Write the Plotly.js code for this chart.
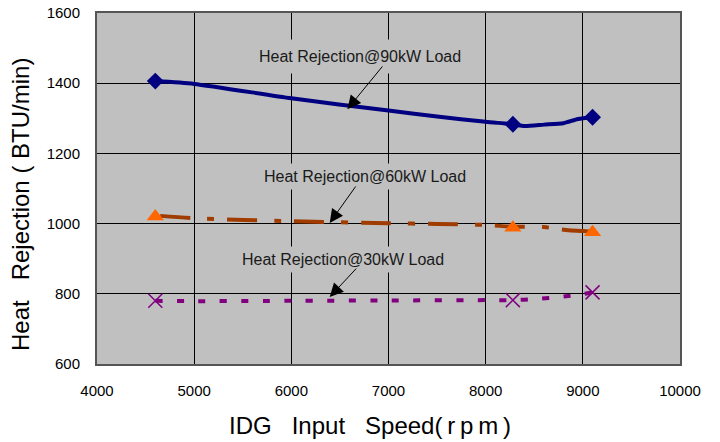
<!DOCTYPE html>
<html>
<head>
<meta charset="utf-8">
<script src="https://cdn.plot.ly/plotly-3.0.1.min.js"></script>
<style>
html,body{margin:0;padding:0;background:#fff;}
#chart{width:720px;height:442px;}
</style>
</head>
<body>
<div id="chart"></div>
<script>
// Marker points (rpm, BTU/min)
const markerSpeed = [4600, 8280, 9100];
const load90Markers = [1406, 1283, 1303];
const load60Markers = [1020, 988, 975];
const load30Markers = [780, 782, 804];

// Line traces
const load90LineX = [4600, 5000, 6000, 7000, 7500, 8000, 8280, 8400, 8600, 8800, 8950, 9100];
const load90LineY = [1406, 1398, 1357, 1322, 1305, 1290, 1283, 1278, 1282, 1286, 1298, 1303];
const load60LineX = [4650, 5000, 6000, 7000, 7500, 8000, 8280, 8600, 8850, 9000, 9100];
const load60LineY = [1022, 1015, 1007, 1001, 999, 996, 991, 990, 981, 979, 976];
const load30LineX = [4600, 5000, 6000, 7000, 8000, 8280, 8500, 8800, 9000, 9100];
const load30LineY = [780, 779, 780, 781, 782, 782, 785, 792, 799, 804];

const labels = ["Heat Rejection@90kW Load", "Heat Rejection@60kW Load", "Heat Rejection@30kW Load"];
const xTitle = "IDG\u00a0\u00a0\u00a0Input\u00a0\u00a0\u00a0Speed(\u2009r\u2009p\u2009m\u2009)";
const yTitle = "Heat\u00a0\u00a0\u00a0Rejection\u00a0(\u00a0BTU/min)";

const FONT = "Liberation Sans, Arial, sans-serif";

const traces = [
  {x: load90LineX, y: load90LineY, mode: 'lines', line: {color: '#000080', width: 4, shape: 'spline', smoothing: 0.6}, hoverinfo: 'skip'},
  {x: load60LineX, y: load60LineY, mode: 'lines', line: {color: '#a03c00', width: 4, shape: 'spline', smoothing: 0.6, dash: '30px,17px,7px,13px'}, hoverinfo: 'skip'},
  {x: load30LineX, y: load30LineY, mode: 'lines', line: {color: '#800080', width: 4, shape: 'spline', smoothing: 0.6, dash: '7px,14.5px'}, hoverinfo: 'skip'},
  {x: markerSpeed, y: load90Markers, mode: 'markers', name: labels[0], marker: {symbol: 'diamond', size: 13, color: '#000080'}},
  {x: markerSpeed, y: load60Markers, mode: 'markers', name: labels[1], marker: {symbol: 'triangle-up', size: 15, color: '#ff6600'}},
  {x: markerSpeed, y: load30Markers, mode: 'markers', name: labels[2], marker: {symbol: 'x-thin-open', size: 14, line: {color: '#800080', width: 1.5}, color: '#800080'}}
];

function textAnn(txt, x, y, pad) {
  return {text: txt, x: x, y: y, xref: 'x', yref: 'y', showarrow: false, bgcolor: '#c0c0c0', borderpad: pad,
          font: {family: FONT, size: 16, color: '#1a1a1a'}};
}
function arrowAnn(x, y, ax, ay) {
  return {text: '', x: x, y: y, ax: ax, ay: ay, xref: 'x', yref: 'y', axref: 'x', ayref: 'y',
          showarrow: true, arrowhead: 2, arrowsize: 2.7, arrowwidth: 1, arrowcolor: '#000', standoff: 0, startstandoff: 0};
}

const layout = {
  width: 720, height: 442,
  margin: {l: 97, r: 40, t: 13, b: 78},
  paper_bgcolor: '#ffffff',
  plot_bgcolor: '#c0c0c0',
  showlegend: false,
  font: {family: FONT, size: 15, color: '#000'},
  xaxis: {
    range: [4000, 10000], dtick: 1000, tick0: 4000, tickformat: 'd',
    showgrid: true, gridcolor: '#000', gridwidth: 1,
    showline: true, linecolor: '#555', linewidth: 2, mirror: true,
    zeroline: false, ticks: '', ticklabelstandoff: 12,
    tickfont: {family: FONT, size: 15, color: '#000'}
  },
  yaxis: {
    range: [600, 1600], dtick: 200, tick0: 600, tickformat: 'd',
    showgrid: true, gridcolor: '#000', gridwidth: 1,
    showline: true, linecolor: '#555', linewidth: 2, mirror: true,
    zeroline: false, ticks: '', ticklabelstandoff: 12,
    tickfont: {family: FONT, size: 15, color: '#000'}
  },
  annotations: [
    {text: xTitle, xref: 'paper', yref: 'paper', x: 0.469, y: -0.174, xanchor: 'center', yanchor: 'middle',
     showarrow: false, font: {family: FONT, size: 24, color: '#000'}},
    {text: yTitle, xref: 'paper', yref: 'paper', x: -0.1303, y: 0.453, xanchor: 'center', yanchor: 'middle',
     textangle: -90, showarrow: false, font: {family: FONT, size: 24, color: '#000'}},
    textAnn(labels[0], 6703, 1475, 8),
    arrowAnn(6577, 1326, 6950, 1452),
    textAnn(labels[1], 6756, 1134, 4),
    arrowAnn(6395, 1002, 6673, 1110),
    textAnn(labels[2], 6535, 899, 4),
    arrowAnn(6395, 791, 6682, 876)
  ]
};

Plotly.newPlot('chart', traces, layout, {staticPlot: true, displayModeBar: false});
</script>
</body>
</html>
